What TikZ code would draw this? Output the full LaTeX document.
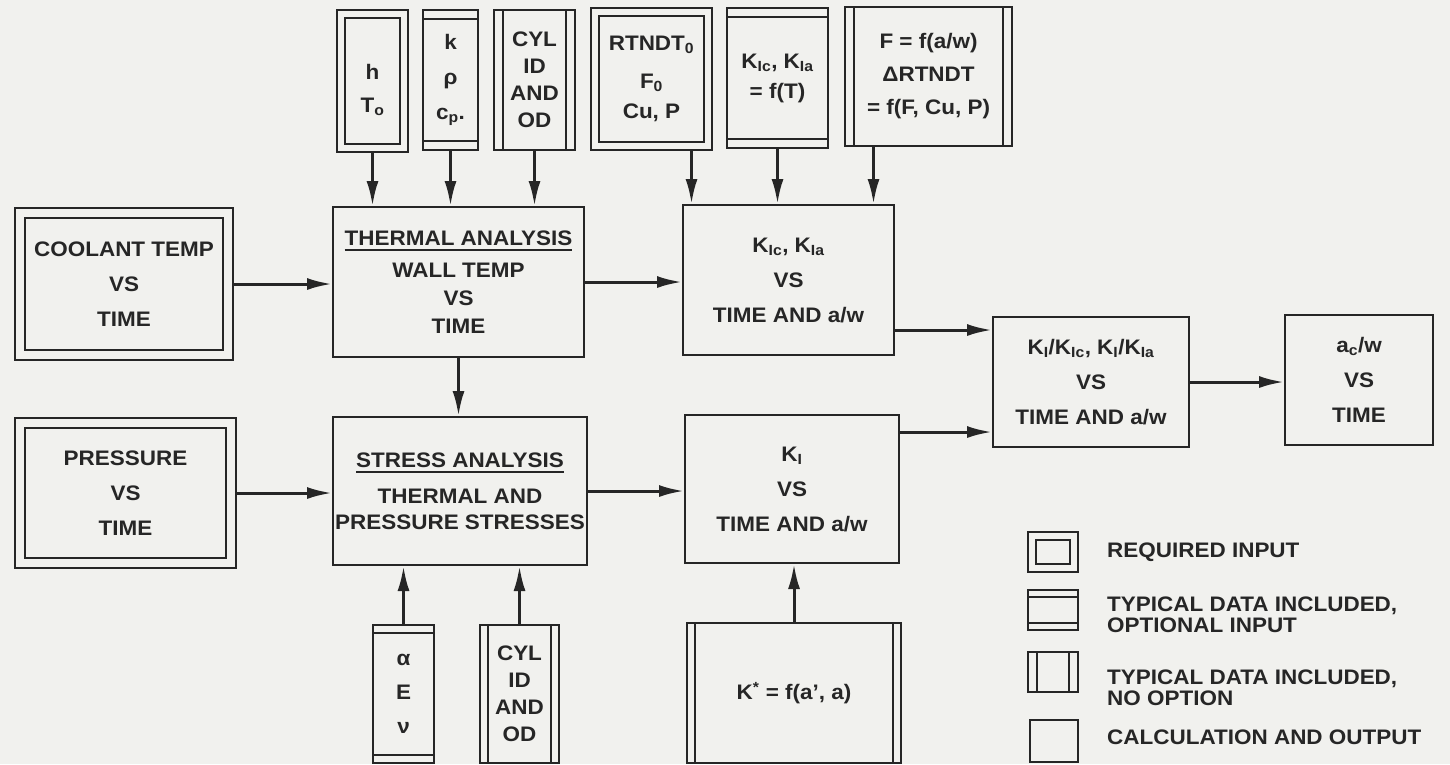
\documentclass[tikz,border=0pt]{standalone}
\usepackage{fontspec}
\setmainfont{Liberation Sans}[FakeStretch=1.07]
\usetikzlibrary{arrows.meta}
\definecolor{ink}{RGB}{38,38,38}
\definecolor{bg}{RGB}{241,241,238}
\newcommand{\ulin}[1]{\setbox0\hbox{#1}\leavevmode\rlap{\rule[-6pt]{\wd0}{2pt}}\box0}
\tikzset{
  box/.style={draw=ink, line width=2pt, inner sep=0pt, align=center, text=ink},
  lsk/.style={font=\fontsize{21}{#1}\selectfont\bfseries},
  calc/.style={box},
  req/.style={box, path picture={\draw[ink, line width=2pt]
      ([shift={(#1,-#1)}]path picture bounding box.north west) rectangle
      ([shift={(-#1,#1)}]path picture bounding box.south east);}},
  req/.default=8pt,
  opt/.style={box, path picture={\draw[ink, line width=2pt]
      ([yshift=-#1]path picture bounding box.north west) -- ([yshift=-#1]path picture bounding box.north east)
      ([yshift=#1]path picture bounding box.south west) -- ([yshift=#1]path picture bounding box.south east);}},
  opt/.default=9pt,
  nop/.style={box, path picture={\draw[ink, line width=2pt]
      ([xshift=#1]path picture bounding box.north west) -- ([xshift=#1]path picture bounding box.south west)
      ([xshift=-#1]path picture bounding box.north east) -- ([xshift=-#1]path picture bounding box.south east);}},
  nop/.default=9pt,
  arr/.style={draw=ink, line width=3pt, -{Latex[length=25pt,width=12pt]}},
  legtext/.style={anchor=west, align=left, text=ink, inner sep=0pt, font=\fontsize{21}{21}\selectfont\bfseries},
}
\begin{document}
\begin{tikzpicture}[x=1pt, y=-1pt]
\fill[bg] (0,0) rectangle (1450,764);
\useasboundingbox (0,0) rectangle (1450,764);

% top inputs
\node[req, minimum width=71pt, minimum height=142pt, lsk=33] (hbox) at (372.5,81) {\mbox{}\\h\\T\textsubscript{o}};
\node[opt, minimum width=55pt, minimum height=140pt, lsk=35] (kbox) at (450.5,80) {k\\ρ\\c\textsubscript{p}.};
\node[nop, minimum width=81pt, minimum height=140pt, lsk=27] (cylA) at (534.5,80) {CYL\\ID\\AND\\OD};
\node[req, minimum width=121pt, minimum height=142pt, lsk=30] (rtndt) at (651.5,79) {RTNDT\textsubscript{0}\\[8pt]F\textsubscript{0}\\Cu, P};
\node[opt, minimum width=101pt, minimum height=140pt, lsk=30] (klcin) at (777.5,78) {K\textsubscript{Ic}, K\textsubscript{Ia}\\= f(T)};
\node[nop, minimum width=167pt, minimum height=139pt, lsk=33] (fbox) at (928.5,76.5) {F = f(a/w)\\ΔRTNDT\\= f(F, Cu, P)};

% middle row
\node[req=10pt, minimum width=218pt, minimum height=152pt, lsk=35] (cool) at (124,284) {COOLANT TEMP\\VS\\TIME};
\node[calc, minimum width=251pt, minimum height=150pt, lsk=28] (therm) at (458.5,282) {\ulin{THERMAL ANALYSIS}\\[4pt]WALL TEMP\\VS\\TIME};
\node[calc, minimum width=211pt, minimum height=150pt, lsk=35] (klc) at (788.5,280) {K\textsubscript{Ic}, K\textsubscript{Ia}\\VS\\TIME AND a/w};
\node[req=10pt, minimum width=221pt, minimum height=150pt, lsk=35] (press) at (125.5,493) {PRESSURE\\VS\\TIME};
\node[calc, minimum width=254pt, minimum height=148pt, lsk=26] (stress) at (460,491) {\ulin{STRESS ANALYSIS}\\[10pt]THERMAL AND\\PRESSURE STRESSES};
\node[calc, minimum width=214pt, minimum height=148pt, lsk=35] (ki) at (792,489) {K\textsubscript{I}\\VS\\TIME AND a/w};
\node[calc, minimum width=196pt, minimum height=130pt, lsk=35] (ratio) at (1091,382) {K\textsubscript{I}/K\textsubscript{Ic}, K\textsubscript{I}/K\textsubscript{Ia}\\VS\\TIME AND a/w};
\node[calc, minimum width=148pt, minimum height=130pt, lsk=35] (ac) at (1359,380) {a\textsubscript{c}/w\\VS\\TIME};

% bottom inputs
\node[opt=8pt, minimum width=61pt, minimum height=138pt, lsk=34] (alpha) at (403.5,694) {α\\E\\ν};
\node[nop=8pt, minimum width=79pt, minimum height=138pt, lsk=27] (cylB) at (519.5,694) {CYL\\ID\\AND\\OD};
\node[nop=8pt, minimum width=214pt, minimum height=140pt, lsk=30] (kstar) at (794,693) {K\textsuperscript{*} = f(a’, a)};

% legend
\node[req=8pt, minimum width=50pt, minimum height=40pt] (lg1) at (1053,552) {};
\node[opt=7pt, minimum width=50pt, minimum height=40pt] (lg2) at (1053,610) {};
\node[nop=9pt, minimum width=50pt, minimum height=40pt] (lg3) at (1053,672) {};
\node[calc, minimum width=48pt, minimum height=42pt] (lg4) at (1054,741) {};
\node[legtext] (lt1) at (1107,552) {REQUIRED INPUT};
\node[legtext] (lt2) at (1107,615) {TYPICAL DATA INCLUDED,\\OPTIONAL INPUT};
\node[legtext] (lt3) at (1107,688) {TYPICAL DATA INCLUDED,\\NO OPTION};
\node[legtext] (lt4) at (1107,737) {CALCULATION AND OUTPUT};

% connectors
\draw[arr] (hbox.south) -- (hbox.south |- therm.north);
\draw[arr] (kbox.south) -- (kbox.south |- therm.north);
\draw[arr] (cylA.south) -- (cylA.south |- therm.north);
\draw[arr] ([xshift=40pt]rtndt.south) -- ([xshift=40pt]rtndt.south |- klc.north);
\draw[arr] (klcin.south) -- (klcin.south |- klc.north);
\draw[arr] ([xshift=-55pt]fbox.south) -- ([xshift=-55pt]fbox.south |- klc.north);
\draw[arr] (cool.east) -- (cool.east -| therm.west);
\draw[arr] (therm.east) -- (therm.east -| klc.west);
\draw[arr] (therm.south) -- (therm.south |- stress.north);
\draw[arr] (press.east) -- (press.east -| stress.west);
\draw[arr] (stress.east) -- (stress.east -| ki.west);
\draw[arr] ([yshift=-50pt]klc.east) -- ([yshift=-50pt]klc.east -| ratio.west);
\draw[arr] ([yshift=57pt]ki.east) -- ([yshift=57pt]ki.east -| ratio.west);
\draw[arr] (ratio.east) -- (ratio.east -| ac.west);
\draw[arr] (alpha.north) -- (alpha.north |- stress.south);
\draw[arr] (cylB.north) -- (cylB.north |- stress.south);
\draw[arr] (kstar.north) -- (kstar.north |- ki.south);
\end{tikzpicture}
\end{document}
